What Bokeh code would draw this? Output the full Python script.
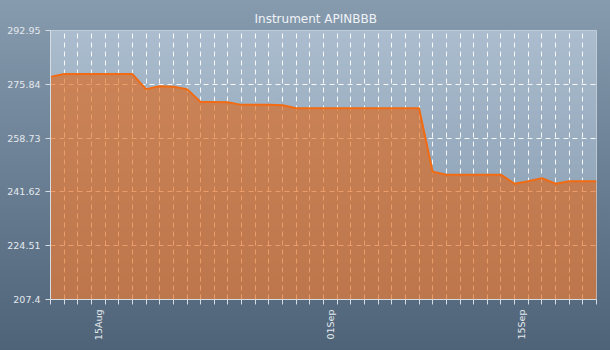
import math
import numpy as np
import pandas as pd
from bokeh.plotting import figure
from bokeh.models import FixedTicker, CustomJSTickFormatter, Range1d
from bokeh.embed import file_html
from bokeh.resources import INLINE

# ---- data ----
dates = pd.date_range("2014-08-11", "2014-09-20", freq="D")
prices = [
    278.2, 279.1, 279.1, 279.1, 279.1, 279.1, 279.1,   # Aug 11-17
    274.3, 275.2, 275.1, 274.3, 270.2, 270.2, 270.1,   # Aug 18-24
    269.3, 269.3, 269.3, 269.2, 268.2, 268.2, 268.2,   # Aug 25-31
    268.2, 268.2, 268.2, 268.2, 268.2, 268.2, 268.2,   # Sep 1-7
    248.0, 247.1, 247.1, 247.1, 247.1, 247.1, 244.2,   # Sep 8-14
    245.0, 246.0, 244.2, 245.0, 245.0, 245.0,          # Sep 15-20
]
y_ticks = [207.4, 224.51, 241.62, 258.73, 275.84, 292.95]
title_text = "Instrument APINBBB"

x_start = dates[0]
x_end = dates[-1]
y_min, y_max = y_ticks[0], y_ticks[-1]

p = figure(
    frame_width=546, frame_height=269,
    min_border_left=50, min_border_right=14, min_border_top=30, min_border_bottom=51,
    x_axis_type="datetime",
    x_range=Range1d(x_start, x_end), y_range=Range1d(y_min, y_max),
    output_backend="svg", toolbar_location=None,
)
p.styles = {"background": "linear-gradient(to bottom, #879BAF, #4E6378)"}
p.border_fill_alpha = 0
p.background_fill_alpha = 0
p.outline_line_color = "#C9D3DD"

# plot-area vertical gradient (drawn beneath the grid)
n = 270
t = np.linspace(0, 1, n)[:, None]
top = np.array([171, 189, 206])
bot = np.array([131, 152, 174])
rgb = (bot + (top - bot) * t).astype(np.uint8)
img = np.zeros((n, 1), dtype=np.uint32)
view = img.view(dtype=np.uint8).reshape((n, 1, 4))
view[:, 0, 0:3] = rgb
view[:, 0, 3] = 255
x0_ms = x_start.value / 1e6
dw_ms = (x_end - x_start).total_seconds() * 1000
p.image_rgba(image=[img], x=x0_ms, y=y_min, dw=dw_ms, dh=y_max - y_min, level="image")

# data
p.varea(x=dates, y1=y_min, y2=prices, fill_color="#E4600A", fill_alpha=0.6)
p.line(dates, prices, line_color="#F26B12", line_width=2)

# title
p.title.text = title_text
p.title.text_font = "DejaVu Sans"
p.title.text_font_size = "12px"
p.title.text_font_style = "normal"
p.title.text_color = "#F0F3F6"
p.title.align = "left"
p.title.offset = 204

# axes
day_ticks = [d.value / 1e6 for d in dates]
p.xaxis.ticker = FixedTicker(ticks=day_ticks)
p.xaxis.formatter = CustomJSTickFormatter(code="""
const d = new Date(tick);
const day = d.getUTCDate();
if (day !== 1 && day !== 15) return '';
const m = ['Jan','Feb','Mar','Apr','May','Jun','Jul','Aug','Sep','Oct','Nov','Dec'][d.getUTCMonth()];
return (day < 10 ? '0' : '') + day + m + '\\n ';
""")
p.xaxis.major_label_orientation = math.pi / 2
p.yaxis.ticker = FixedTicker(ticks=y_ticks)
p.yaxis.formatter = CustomJSTickFormatter(code="return String(parseFloat(tick.toFixed(2)));")

for ax in (p.xaxis, p.yaxis):
    ax.axis_line_color = "#D5DCE3"
    ax.major_tick_line_color = "#D5DCE3"
    ax.major_tick_out = 5
    ax.major_tick_in = 0
    ax.minor_tick_line_color = None
    ax.major_label_text_color = "#E4E9EE"
    ax.major_label_text_font = "DejaVu Sans"
    ax.major_label_text_font_size = "9.5px"
    ax.major_label_standoff = 5

for g in (p.xgrid, p.ygrid):
    g.grid_line_color = "white"
    g.grid_line_alpha = 0.9
    g.grid_line_dash = "5 4"
    g.grid_line_width = 1

open("out.html", "w").write(file_html(p, INLINE))
